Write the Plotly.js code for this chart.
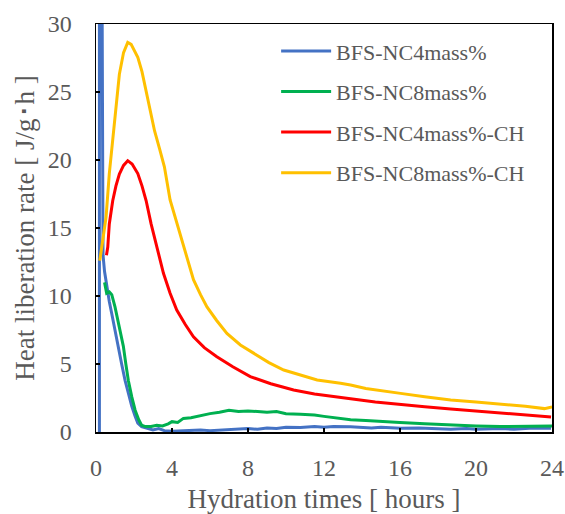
<!DOCTYPE html>
<html>
<head>
<meta charset="utf-8">
<script src="https://cdn.plot.ly/plotly-3.0.1.min.js"></script>
<style>html,body{margin:0;padding:0;background:#fff;}#chart{width:565px;height:514px;}</style>
</head>
<body>
<div id="chart"></div>
<script>
// Series names
const seriesNames = ["BFS-NC4mass%", "BFS-NC8mass%", "BFS-NC4mass%-CH", "BFS-NC8mass%-CH"];

// BFS-NC4mass% (blue)
const nc4X = [0.18, 0.18, 0.30, 0.34, 0.37, 0.45, 0.56, 0.7, 0.83, 1.0, 1.16, 1.35, 1.53, 1.7, 1.88, 2.05, 2.2, 2.4, 2.67, 3.0, 3.3, 3.6, 4.0, 4.5, 5.0, 5.5, 6.0, 6.5, 7.0, 7.5, 8.0, 8.5, 9.0, 9.5, 10.0, 10.76, 11.5, 12.0, 12.5, 13.4, 14.0, 14.5, 15.0, 16.03, 17.0, 18.0, 18.67, 19.5, 20.0, 21.3, 22.0, 23.0, 23.95];
const nc4Y = [0, 40, 40, 20, 13, 11.8, 10.7, 9.6, 8.7, 7.4, 6.3, 5.0, 3.8, 2.8, 1.9, 1.2, 0.65, 0.4, 0.3, 0.15, 0.25, 0.1, 0.05, 0.1, 0.1, 0.15, 0.1, 0.15, 0.2, 0.2, 0.25, 0.2, 0.3, 0.25, 0.35, 0.34, 0.4, 0.35, 0.4, 0.39, 0.35, 0.3, 0.35, 0.27, 0.3, 0.25, 0.2, 0.25, 0.2, 0.25, 0.2, 0.3, 0.27];

// BFS-NC8mass% (green)
const nc8X = [0.45, 0.56, 0.7, 0.83, 1.0, 1.16, 1.3, 1.44, 1.57, 1.7, 1.88, 2.06, 2.25, 2.4, 2.6, 2.9, 3.2, 3.5, 3.8, 4.0, 4.3, 4.6, 5.0, 5.6, 6.0, 6.5, 7.0, 7.5, 8.0, 8.5, 9.0, 9.5, 10.0, 10.76, 11.5, 12.0, 12.5, 13.4, 14.2, 15.0, 16.0, 17.3, 18.67, 20.0, 21.3, 22.6, 24.0];
const nc8Y = [11, 10.2, 10.3, 10.1, 9.2, 8.2, 7.3, 6.3, 5.0, 3.8, 2.6, 1.6, 0.9, 0.5, 0.4, 0.4, 0.5, 0.45, 0.6, 0.76, 0.7, 1.0, 1.05, 1.25, 1.35, 1.45, 1.6, 1.5, 1.55, 1.5, 1.45, 1.5, 1.35, 1.3, 1.25, 1.15, 1.05, 0.9, 0.85, 0.8, 0.7, 0.6, 0.5, 0.45, 0.4, 0.42, 0.45];

// BFS-NC4mass%-CH (red)
const nc4chX = [0.55, 0.62, 0.7, 0.88, 1.05, 1.23, 1.45, 1.67, 1.9, 2.2, 2.42, 2.64, 2.9, 3.02, 3.3, 3.55, 3.9, 4.25, 4.7, 5.13, 5.7, 6.36, 7.2, 8.12, 9.2, 10.4, 11.5, 12.7, 13.4, 14.7, 16.03, 17.3, 18.67, 20.0, 21.3, 22.6, 23.95];
const nc4chY = [13.0, 13.6, 15.3, 17.0, 18.1, 18.97, 19.6, 19.95, 19.7, 19.0, 18.1, 17.0, 15.3, 14.6, 13.1, 11.67, 10.2, 8.97, 7.9, 7.0, 6.2, 5.54, 4.8, 4.07, 3.55, 3.09, 2.8, 2.55, 2.45, 2.2, 2.0, 1.85, 1.7, 1.55, 1.4, 1.25, 1.1];

// BFS-NC8mass%-CH (yellow)
const nc8chX = [0.2, 0.3, 0.42, 0.53, 0.7, 0.97, 1.23, 1.45, 1.67, 1.85, 2.0, 2.2, 2.42, 2.64, 2.86, 3.08, 3.35, 3.6, 3.9, 4.22, 4.43, 4.8, 5.13, 5.5, 5.84, 6.35, 6.89, 7.6, 8.3, 9.1, 9.88, 10.76, 11.64, 12.87, 13.4, 14.2, 15.1, 16.03, 17.3, 18.67, 20.0, 21.3, 22.6, 23.6, 24.0];
const nc8chY = [12.6, 13.5, 14.6, 15.8, 19.0, 22.6, 26.3, 27.9, 28.65, 28.5, 28.1, 27.55, 26.5, 25.1, 23.7, 22.15, 20.8, 19.5, 17.06, 15.5, 14.6, 12.8, 11.2, 10.1, 9.2, 8.2, 7.25, 6.4, 5.8, 5.1, 4.56, 4.2, 3.82, 3.58, 3.46, 3.2, 3.0, 2.84, 2.6, 2.35, 2.2, 2.06, 1.9, 1.72, 1.85];

// Tick labels
const xTicks = [0, 4, 8, 12, 16, 20, 24];
const yTicks = [0, 5, 10, 15, 20, 25, 30];

const colors = ["#4472C4", "#00B050", "#FF0000", "#FFC000"];
const xs = [nc4X, nc8X, nc4chX, nc8chX];
const ys = [nc4Y, nc8Y, nc4chY, nc8chY];

const serif = "Liberation Serif, Times New Roman, serif";
const txtColor = "#595959";

const traces = seriesNames.map((name, i) => ({
  type: "scatter",
  mode: "lines",
  name: name,
  legendgroup: "g" + i,
  x: xs[i],
  y: ys[i],
  line: { color: colors[i], width: 3 }
}));

const axisCommon = {
  showgrid: false,
  zeroline: false,
  showline: true,
  linecolor: "#000",
  linewidth: 1.5,
  mirror: true,
  ticks: "inside",
  ticklen: 4,
  tickwidth: 1.5,
  tickcolor: "#000",
  tickfont: { family: serif, size: 24, color: txtColor }
};

const layout = {
  width: 565,
  height: 514,
  margin: { l: 96, r: 13, t: 24, b: 82 },
  paper_bgcolor: "#fff",
  plot_bgcolor: "#fff",
  showlegend: true,
  legend: {
    x: 0.395, y: 0.985, xanchor: "left", yanchor: "top",
    bgcolor: "rgba(0,0,0,0)",
    borderwidth: 0,
    font: { family: serif, size: 22, color: txtColor },
    tracegroupgap: 9,
    itemwidth: 50
  },
  xaxis: Object.assign({}, axisCommon, {
    range: [0, 24],
    tickvals: xTicks,
    ticktext: xTicks.map(String),
    ticklabelstandoff: 14,
    title: { text: "Hydration times [ hours ]", font: { family: serif, size: 27, color: txtColor }, standoff: 12 }
  }),
  yaxis: Object.assign({}, axisCommon, {
    range: [0, 30],
    tickvals: yTicks,
    ticktext: yTicks.map(String),
    ticklabelstandoff: 18,
    title: { text: "Heat liberation rate [ J/g･h ]", font: { family: serif, size: 27, color: txtColor }, standoff: 5 }
  })
};

Plotly.newPlot("chart", traces, layout, { staticPlot: true, displayModeBar: false });
</script>
</body>
</html>
